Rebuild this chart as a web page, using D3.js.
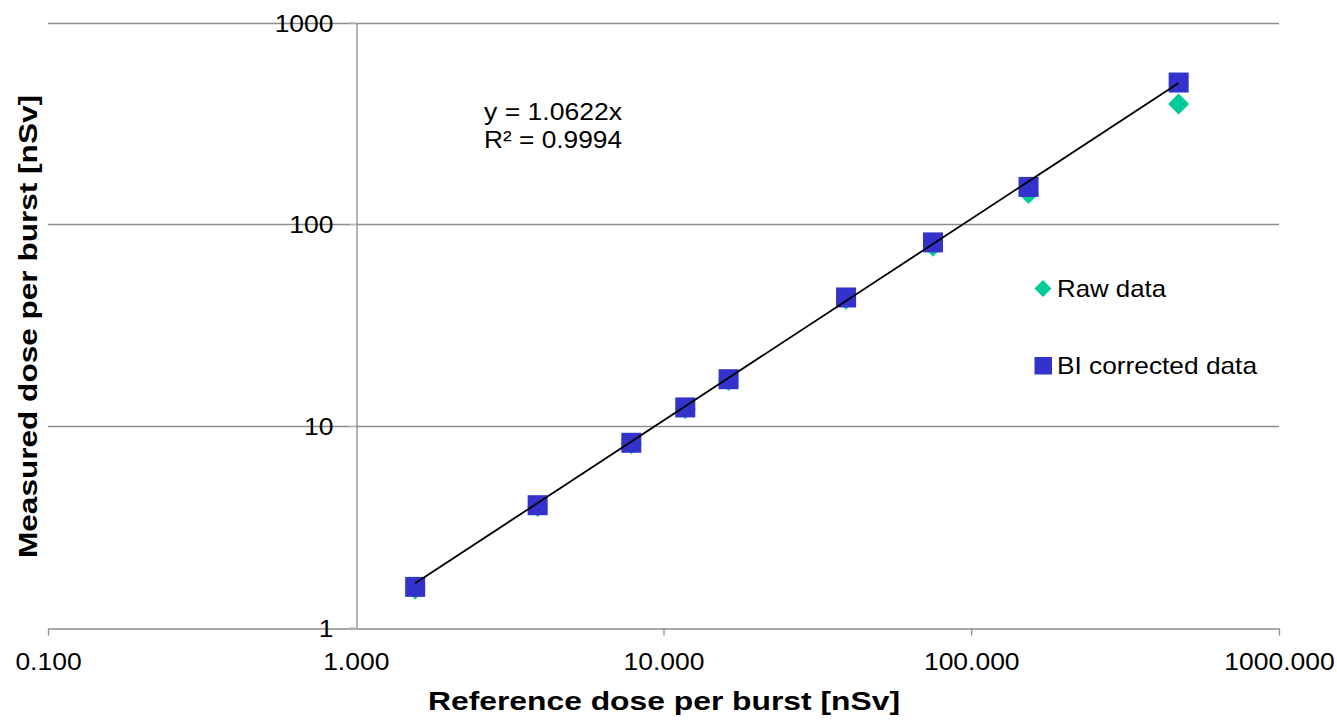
<!DOCTYPE html>
<html>
<head>
<meta charset="utf-8">
<script src="https://cdn.jsdelivr.net/npm/d3@7"></script>
<style>
  body { margin: 0; background: #fff; }
  text { font-family: 'Liberation Sans', Arial, sans-serif; }
</style>
</head>
<body>
<div id="chart"></div>
<script>
// reference dose (x) and measured doses (y), nSv per burst
const refDose = [1.56, 3.90, 7.86, 11.77, 16.27, 39.2, 75.1, 153.5, 472]
const rawDose = [1.55, 3.98, 8.15, 12.2, 16.8, 42.4, 77.8, 142, 394]
const corrDose = [1.59, 4.04, 8.24, 12.34, 17.03, 43.3, 81.2, 153, 504]
const slope = 1.0622
const xTicks = [0.1, 1, 10, 100, 1000]
const yTicks = [1, 10, 100, 1000]

const W = 1337, H = 721
const margin = { top: 22.5, left: 48, right: 58, bottom: 93.5 }

const svg = d3.select('#chart').append('svg')
  .attr('width', W).attr('height', H)

const x = d3.scaleLog().domain([0.1, 1000]).range([margin.left, W - margin.right])
const y = d3.scaleLog().domain([1, 1000]).range([H - margin.bottom, margin.top])

const grey = '#8c8c8c'

// the source picture is a bit wider than tall, stretch text a little
function widen(sel, k) {
  sel.each(function() {
    const len = this.getComputedTextLength()
    d3.select(this).attr('textLength', len * k).attr('lengthAdjust', 'spacingAndGlyphs')
  })
}

// horizontal gridlines
svg.append('g').selectAll('line')
  .data(yTicks.slice(1))
  .join('line')
  .attr('x1', x(0.1)).attr('x2', x(1000))
  .attr('y1', d => Math.round(y(d)) + 0.5).attr('y2', d => Math.round(y(d)) + 0.5)
  .attr('stroke', grey).attr('stroke-width', 1.3)

// x axis (bottom)
const xAxis = d3.axisBottom(x)
  .tickValues(xTicks)
  .tickFormat(d3.format('.3f'))
  .tickSize(7)
  .tickSizeOuter(0)
const gx = svg.append('g')
  .attr('transform', `translate(0,${Math.round(y(1)) + 0.5})`)
  .call(xAxis)
gx.select('.domain').attr('stroke', grey).attr('stroke-width', 1.3)
gx.selectAll('.tick line').attr('stroke', grey).attr('stroke-width', 1.3)
gx.selectAll('.tick').filter(d => d === 1).select('line').remove()
gx.selectAll('.tick text')
  .attr('font-size', 24.5).attr('fill', '#000')
  .attr('y', 41).attr('dy', null)
  .call(widen, 1.08)

// y axis crossing at x = 1
const yAxis = d3.axisLeft(y)
  .tickValues(yTicks)
  .tickFormat(d3.format('d'))
  .tickSize(7)
  .tickSizeOuter(0)
const gy = svg.append('g')
  .attr('transform', `translate(${Math.round(x(1)) + 0.5},0)`)
  .call(yAxis)
gy.select('.domain').attr('stroke', grey).attr('stroke-width', 1.3)
gy.selectAll('.tick line').attr('stroke', '#bbb').attr('stroke-width', 1.3)
gy.selectAll('.tick text')
  .attr('font-size', 24.5).attr('fill', '#000')
  .attr('x', -23).attr('dy', '0.36em')
  .call(widen, 1.08)

const xMin = d3.min(refDose), xMax = d3.max(refDose)

const raw = refDose.map((d, i) => [d, rawDose[i]])
const corr = refDose.map((d, i) => [d, corrDose[i]])

const diamond = 'M0,-10.5L10.5,0L0,10.5L-10.5,0Z'

svg.append('g').selectAll('path')
  .data(raw)
  .join('path')
  .attr('d', diamond)
  .attr('transform', d => `translate(${x(d[0])},${y(d[1])})`)
  .attr('fill', '#00cc99')

svg.append('g').selectAll('rect')
  .data(corr)
  .join('rect')
  .attr('x', d => x(d[0]) - 10).attr('y', d => y(d[1]) - 10)
  .attr('width', 20).attr('height', 20)
  .attr('fill', '#3333cc')

// trendline y = 1.0622x over data range
svg.append('line')
  .attr('x1', x(xMin)).attr('y1', y(slope * xMin))
  .attr('x2', x(xMax)).attr('y2', y(slope * xMax))
  .attr('stroke', '#000').attr('stroke-width', 1.8)

// equation label
svg.append('text').attr('x', 484).attr('y', 120)
  .attr('font-size', 24).attr('textLength', 138).attr('lengthAdjust', 'spacingAndGlyphs')
  .text('y = 1.0622x')
svg.append('text').attr('x', 484).attr('y', 147.5)
  .attr('font-size', 24).attr('textLength', 138).attr('lengthAdjust', 'spacingAndGlyphs')
  .text('R² = 0.9994')

// legend
const legend = svg.append('g')
legend.append('path')
  .attr('d', 'M0,-8.5L8.5,0L0,8.5L-8.5,0Z')
  .attr('transform', 'translate(1043,288.5)')
  .attr('fill', '#00cc99')
legend.append('text')
  .attr('x', 1057).attr('y', 297)
  .attr('font-size', 24).attr('textLength', 109).attr('lengthAdjust', 'spacingAndGlyphs')
  .text('Raw data')
legend.append('rect')
  .attr('x', 1034.5).attr('y', 357).attr('width', 17.5).attr('height', 17.5)
  .attr('fill', '#3333cc')
legend.append('text')
  .attr('x', 1057).attr('y', 374)
  .attr('font-size', 24).attr('textLength', 200).attr('lengthAdjust', 'spacingAndGlyphs')
  .text('BI corrected data')

// axis titles
svg.append('text')
  .attr('x', 428).attr('y', 710)
  .attr('font-size', 26).attr('font-weight', 'bold')
  .attr('textLength', 472).attr('lengthAdjust', 'spacingAndGlyphs')
  .text('Reference dose per burst [nSv]')

svg.append('text')
  .attr('transform', 'translate(37,558) rotate(-90)')
  .attr('font-size', 26).attr('font-weight', 'bold')
  .attr('textLength', 463).attr('lengthAdjust', 'spacingAndGlyphs')
  .text('Measured dose per burst [nSv]')
</script>
</body>
</html>
